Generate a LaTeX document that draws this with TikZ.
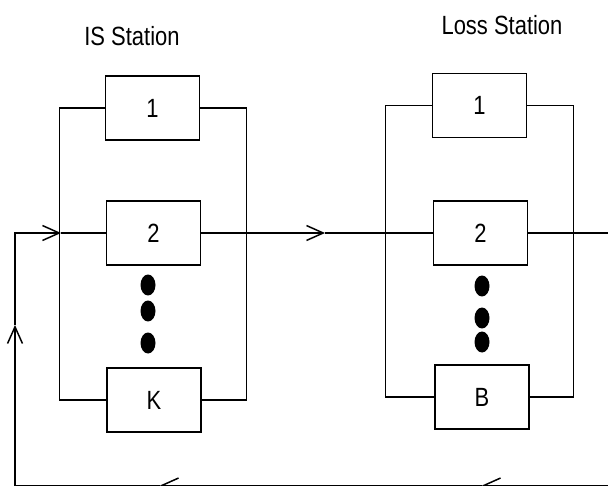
\documentclass[tikz,border=0pt]{standalone}
\usepackage{fontspec}
\setmainfont{Liberation Sans}
\usetikzlibrary{arrows.meta,shapes.geometric}
\newcommand\tallfont[1]{\scalebox{1}[1.2]{#1}}
\tikzset{
  server/.style={draw,line width=.9pt,minimum width=1.88cm,minimum height=1.28cm,inner sep=0pt,font=\fontsize{12.5}{14}\selectfont},
  dot/.style={fill,ellipse,minimum width=.3cm,minimum height=.42cm,inner sep=0pt},
  arr/.style={-{Straight Barb[length=9.5pt,width=8.5pt,line width=.85pt]}},
}
\begin{document}
\begin{tikzpicture}[x=.02cm,y=-.02cm,line width=.75pt]
	\useasboundingbox (0,0) rectangle (608,486);
	% titles
	\node[font=\fontsize{12.5}{14}\selectfont] (istitle) at (132,36) {\tallfont{IS Station}};
	\node[font=\fontsize{12.5}{14}\selectfont] (lstitle) at (502,25) {\tallfont{Loss Station}};
	% IS station
	\node[server] (is1) at (152.5,108) {\tallfont{1}};
	\node[server] (is2) at (153.5,233) {\tallfont{2}};
	\node[server] (isk) at (154,400) {\tallfont{K}};
	\foreach \y in {285,311,343}
		\node[dot] at (148,\y) {};
	\draw (is1.west) -- ++(-45,0) |- (isk.west);%frame left
	\draw (is1.east) -- ++(46,0) |- (isk.east);%frame right
	% loss station
	\node[server] (ls1) at (479.5,105.5) {\tallfont{1}};
	\node[server] (ls2) at (480.5,233) {\tallfont{2}};
	\node[server] (lsb) at (482,397) {\tallfont{B}};
	\foreach \y in {286,318,342}
		\node[dot] at (482,\y) {};
	\draw (ls1.west) -- ++(-46,0) |- (lsb.west);
	\draw (ls1.east) -- ++(46,0) |- (lsb.east);
	% main line
	\coordinate (join) at (61,233);
	\coordinate (mid) at (325,233);
	\coordinate (out) at (608,233);
	\draw (join) -- (is2.west);
	\draw[arr] (is2.east) -- (mid);
	\draw (mid) -- (ls2.west);
	\draw (ls2.east) -- (out);
	% feedback
	\coordinate (br) at (608,485.5);
	\coordinate (b1) at (482,485.5);
	\coordinate (b2) at (160,485.5);
	\coordinate (bl) at (15,485.5);
	\coordinate (up) at (15,325);
	\draw[arr] (br) -- (b1);
	\draw[arr] (b1) -- (b2);
	\draw[arr] (b2) -- (bl) -- (up);
	\draw[arr] (up) -- (15,233) -- (join);
\end{tikzpicture}
\end{document}
